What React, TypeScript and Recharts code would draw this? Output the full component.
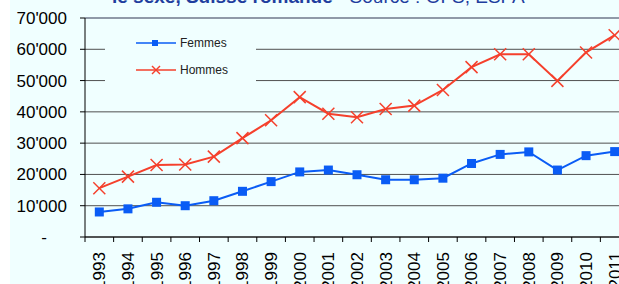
import React from 'react';
import { ComposedChart, Line, XAxis, YAxis, CartesianGrid, ReferenceLine } from 'recharts';

const years = ['1993','1994','1995','1996','1997','1998','1999','2000','2001','2002','2003','2004','2005','2006','2007','2008','2009','2010','2011'];
const femmes = [8000, 9000, 11100, 10000, 11600, 14600, 17700, 20800, 21400, 19900, 18300, 18300, 18800, 23500, 26400, 27200, 21400, 26000, 27300];
const hommes = [15600, 19300, 23000, 23200, 25700, 31600, 37300, 44700, 39400, 38300, 40900, 42000, 47000, 54300, 58400, 58400, 49900, 59000, 64500];
const yTicks = [0, 10000, 20000, 30000, 40000, 50000, 60000, 70000];
const seriesNames = ['Femmes', 'Hommes'];

const data = years.map((y, i) => ({ year: y, Femmes: femmes[i], Hommes: hommes[i] }));

const BLUE = '#0a5cf5';
const RED = '#f5402c';
const BG = '#f0ffff';
const FONT = '"Liberation Sans", Arial, sans-serif';

const CHART_W = 629;
const CHART_H = 300;
const YW = 60;
const M = { top: 18, right: 10, left: 15, bottom: 0 };
const XH = 63;
const PLOT_W = CHART_W - YW - M.left - M.right;
const STEP = PLOT_W / years.length;
const TICK_SIZE = 5;
const TICK_MARGIN = 10;

const fmt = (v: number) => (v === 0 ? '-' : String(v).replace(/\B(?=(\d{3})+(?!\d))/g, "'"));

const YTick = (props: any) => {
  const { x, y, payload } = props;
  const v = payload.value;
  const tx = x - 11 - (v === 0 ? 20 : 0);
  return (
    <text x={tx} y={y} dy="0.35em" textAnchor="end" fontSize={17} fontFamily={FONT} fill="#000">
      {fmt(v)}
    </text>
  );
};

const XTick = (props: any) => {
  const { x, y, payload } = props;
  const axisY = y - TICK_SIZE - TICK_MARGIN;
  const bx = x - STEP / 2;
  return (
    <g>
      <line x1={bx} x2={bx} y1={axisY} y2={axisY + TICK_SIZE} stroke="#000" strokeWidth={1} />
      <text x={x} y={y} dy="0.35em" textAnchor="end" transform={`rotate(-90, ${x}, ${y})`} fontSize={17} fontFamily={FONT} fill="#000">
        {payload.value}
      </text>
    </g>
  );
};

const Square = (props: any) => {
  const { cx, cy } = props;
  if (cx == null || cy == null) return null;
  return <rect x={cx - 4.5} y={cy - 4.5} width={9} height={9} fill={BLUE} />;
};

const Cross = (props: any) => {
  const { cx, cy } = props;
  if (cx == null || cy == null) return null;
  const r = 6;
  return (
    <g stroke={RED} strokeWidth={1.5}>
      <line x1={cx - r} y1={cy - r} x2={cx + r} y2={cy + r} />
      <line x1={cx - r} y1={cy + r} x2={cx + r} y2={cy - r} />
    </g>
  );
};

const LegendBox = () => (
  <div style={{ position: 'absolute', left: 105, top: 30, width: 151, height: 58, background: BG }}>
    <svg width={151} height={58}>
      <line x1={31} x2={71} y1={13} y2={13} stroke={BLUE} strokeWidth={1.5} />
      <rect x={47} y={10} width={6} height={6} fill={BLUE} />
      <text x={75} y={13} dy="0.35em" fontSize={12} fontFamily={FONT} fill="#222">{seriesNames[0]}</text>
      <line x1={31} x2={71} y1={40} y2={40} stroke={RED} strokeWidth={1.5} />
      <g stroke={RED} strokeWidth={1.5}>
        <line x1={47} y1={36} x2={55} y2={44} />
        <line x1={47} y1={44} x2={55} y2={36} />
      </g>
      <text x={75} y={40} dy="0.35em" fontSize={12} fontFamily={FONT} fill="#222">{seriesNames[1]}</text>
    </svg>
  </div>
);

export default function App() {
  return (
    <div style={{ position: 'fixed', left: 0, top: 0, width: 619, height: 284, overflow: 'hidden', background: '#fff' }}>
      <div style={{ position: 'absolute', left: 10, top: 0, width: CHART_W, height: CHART_H, background: BG }}>
        <ComposedChart width={CHART_W} height={CHART_H} data={data} margin={M}>
          <CartesianGrid vertical={false} stroke="#505050" strokeWidth={1} />
          <ReferenceLine y={70000} stroke="#8a96a8" strokeWidth={1.5} />
          <XAxis
            dataKey="year"
            scale="band"
            height={XH}
            interval={0}
            tickLine={false}
            tickSize={TICK_SIZE}
            tickMargin={TICK_MARGIN}
            tick={<XTick />}
            axisLine={{ stroke: '#000' }}
          />
          <YAxis
            width={YW}
            domain={[0, 70000]}
            ticks={yTicks}
            interval={0}
            tickSize={TICK_SIZE}
            tickMargin={2}
            tick={<YTick />}
            tickLine={{ stroke: '#000' }}
            axisLine={{ stroke: '#000' }}
          />
          <Line
            type="linear"
            dataKey="Femmes"
            stroke={BLUE}
            strokeWidth={2}
            dot={<Square />}
            activeDot={false}
            isAnimationActive={false}
          />
          <Line
            type="linear"
            dataKey="Hommes"
            stroke={RED}
            strokeWidth={2}
            dot={<Cross />}
            activeDot={false}
            isAnimationActive={false}
          />
        </ComposedChart>
      </div>
      <LegendBox />
      <svg width={619} height={20} style={{ position: 'absolute', left: 0, top: 0 }}>
        <text x={112} y={3} fontSize={19} fontFamily={FONT} fill="#1f3e9e">
          <tspan fontWeight="bold">le sexe, Suisse romande</tspan>
          <tspan> - Source : OFS, ESPA</tspan>
        </text>
      </svg>
    </div>
  );
}
